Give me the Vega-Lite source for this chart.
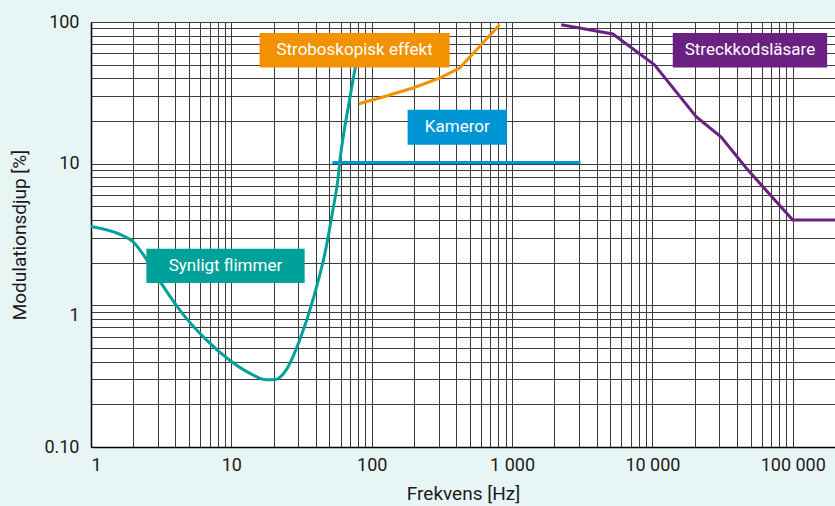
{
  "$schema": "https://vega.github.io/schema/vega-lite/v6.json",
  "width": 744,
  "height": 425,
  "autosize": {"type": "none"},
  "padding": {"left": 91, "top": 22, "right": 0, "bottom": 59},
  "background": "#e8f5f5",
  "config": {
    "view": {"fill": "white", "stroke": null},
    "font": "Roboto",
    "axis": {
      "labelFont": "Roboto", "titleFont": "Roboto",
      "labelFontSize": 18, "titleFontSize": 19,
      "labelColor": "#1a1a1a", "titleColor": "#1a1a1a",
      "titleFontWeight": "normal",
      "gridColor": "#3c3c3c", "gridWidth": 1, "gridOpacity": 1,
      "domainColor": "#000000", "domainWidth": 1.5,
      "ticks": false, "labelOverlap": false
    }
  },
  "datasets": {
    "curves": [
      {"serie": "Synligt flimmer", "f": 1.0, "m": 3.6},
      {"serie": "Synligt flimmer", "f": 1.69, "m": 3.1},
      {"serie": "Synligt flimmer", "f": 1.99, "m": 2.82},
      {"serie": "Synligt flimmer", "f": 2.41, "m": 2.21},
      {"serie": "Synligt flimmer", "f": 3.17, "m": 1.43},
      {"serie": "Synligt flimmer", "f": 4.28, "m": 0.93},
      {"serie": "Synligt flimmer", "f": 6.64, "m": 0.57},
      {"serie": "Synligt flimmer", "f": 9.72, "m": 0.41},
      {"serie": "Synligt flimmer", "f": 13.5, "m": 0.332},
      {"serie": "Synligt flimmer", "f": 17.7, "m": 0.298},
      {"serie": "Synligt flimmer", "f": 20.9, "m": 0.301},
      {"serie": "Synligt flimmer", "f": 24.6, "m": 0.35},
      {"serie": "Synligt flimmer", "f": 30.7, "m": 0.57},
      {"serie": "Synligt flimmer", "f": 38.1, "m": 1.09},
      {"serie": "Synligt flimmer", "f": 47.5, "m": 2.6},
      {"serie": "Synligt flimmer", "f": 52.9, "m": 4.73},
      {"serie": "Synligt flimmer", "f": 57.4, "m": 7.69},
      {"serie": "Synligt flimmer", "f": 59.1, "m": 10.1},
      {"serie": "Synligt flimmer", "f": 69.6, "m": 28.3},
      {"serie": "Synligt flimmer", "f": 76.8, "m": 48.6},
      {"serie": "Synligt flimmer", "f": 84.9, "m": 69.2},
      {"serie": "Stroboskopisk effekt", "f": 81.1, "m": 26.5},
      {"serie": "Stroboskopisk effekt", "f": 113.8, "m": 29.1},
      {"serie": "Stroboskopisk effekt", "f": 196.6, "m": 34.2},
      {"serie": "Stroboskopisk effekt", "f": 304.5, "m": 40.2},
      {"serie": "Stroboskopisk effekt", "f": 423, "m": 47.3},
      {"serie": "Stroboskopisk effekt", "f": 587, "m": 67.2},
      {"serie": "Stroboskopisk effekt", "f": 815, "m": 95.7},
      {"serie": "Kameror", "f": 52.4, "m": 10.2},
      {"serie": "Kameror", "f": 3076, "m": 10.2},
      {"serie": "Streckkodsläsare", "f": 2241, "m": 95.7},
      {"serie": "Streckkodsläsare", "f": 5224, "m": 82.3},
      {"serie": "Streckkodsläsare", "f": 10350, "m": 49.9},
      {"serie": "Streckkodsläsare", "f": 20500, "m": 21.5},
      {"serie": "Streckkodsläsare", "f": 30900, "m": 15.4},
      {"serie": "Streckkodsläsare", "f": 46600, "m": 9.31},
      {"serie": "Streckkodsläsare", "f": 100000, "m": 4.0},
      {"serie": "Streckkodsläsare", "f": 200000, "m": 4.0}
    ],
    "labels": [
      {"serie": "Stroboskopisk effekt", "x1": 15.9, "x2": 359, "y1": 47.8, "y2": 83.6, "lx": 75.5, "ly": 63.2},
      {"serie": "Kameror", "x1": 180.2, "x2": 918, "y1": 13.6, "y2": 24.0, "lx": 407, "ly": 18.07},
      {"serie": "Streckkodsläsare", "x1": 13970, "x2": 175800, "y1": 47.8, "y2": 83.6, "lx": 49550, "ly": 63.2},
      {"serie": "Synligt flimmer", "x1": 2.48, "x2": 33.3, "y1": 1.435, "y2": 2.506, "lx": 9.08, "ly": 1.894}
    ]
  },
  "layer": [
    {
      "data": {"name": "curves"},
      "transform": [{"filter": "datum.serie == 'Synligt flimmer'"}],
      "mark": {"type": "line", "interpolate": "monotone", "strokeWidth": 3, "clip": true},
      "encoding": {
        "x": {
          "field": "f", "type": "quantitative",
          "scale": {"type": "log", "domain": [1, 200000], "nice": false},
          "axis": {
            "title": "Frekvens [Hz]",
            "titlePadding": 10,
            "labelPadding": 9,
            "grid": true,
            "values": [1,2,3,4,5,6,7,8,9,10,20,30,40,50,60,70,80,90,100,200,300,400,500,600,700,800,900,1000,2000,3000,4000,5000,6000,7000,8000,9000,10000,20000,30000,40000,50000,60000,70000,80000,90000,100000,200000],
            "labelExpr": "datum.value == 1 ? '1' : datum.value == 10 ? '10' : datum.value == 100 ? '100' : datum.value == 1000 ? '1 000' : datum.value == 10000 ? '10 000' : datum.value == 100000 ? '100 000' : ''"
          }
        },
        "y": {
          "field": "m", "type": "quantitative",
          "scale": {"type": "log", "domain": [0.1, 100], "nice": false},
          "axis": {
            "title": "Modulationsdjup [%]",
            "titlePadding": 14,
            "labelPadding": 12,
            "grid": true,
            "values": [0.1,0.2,0.3,0.4,0.5,0.6,0.7,0.8,0.9,1,2,3,4,5,6,7,8,9,10,20,30,40,50,60,70,80,90,100],
            "labelExpr": "datum.value == 0.1 ? '0.10' : datum.value == 1 ? '1' : datum.value == 10 ? '10' : datum.value == 100 ? '100' : ''",
            "labelOffset": {"condition": {"test": "datum.value == 1", "value": 10}, "value": 0}
          }
        },
        "color": {"field": "serie", "type": "nominal", "legend": null,
          "scale": {"domain": ["Synligt flimmer", "Stroboskopisk effekt", "Kameror", "Streckkodsläsare"],
                    "range": ["#00a198", "#f39200", "#0095d5", "#6b2181"]}}
      }
    },
    {
      "data": {"name": "curves"},
      "transform": [{"filter": "datum.serie != 'Synligt flimmer'"}],
      "mark": {"type": "line", "strokeWidth": 3, "clip": true},
      "encoding": {
        "x": {"field": "f", "type": "quantitative"},
        "y": {"field": "m", "type": "quantitative"},
        "color": {"field": "serie", "type": "nominal"},
        "detail": {"field": "serie"}
      }
    },
    {
      "data": {"name": "labels"},
      "mark": {"type": "rect"},
      "encoding": {
        "x": {"field": "x1", "type": "quantitative"},
        "x2": {"field": "x2"},
        "y": {"field": "y1", "type": "quantitative"},
        "y2": {"field": "y2"},
        "color": {"field": "serie", "type": "nominal"}
      }
    },
    {
      "data": {"name": "labels"},
      "mark": {"type": "text", "color": "white", "fontSize": 17, "font": "Roboto", "align": "center", "baseline": "middle"},
      "encoding": {
        "x": {"field": "lx", "type": "quantitative"},
        "y": {"field": "ly", "type": "quantitative"},
        "text": {"field": "serie"}
      }
    }
  ]
}
